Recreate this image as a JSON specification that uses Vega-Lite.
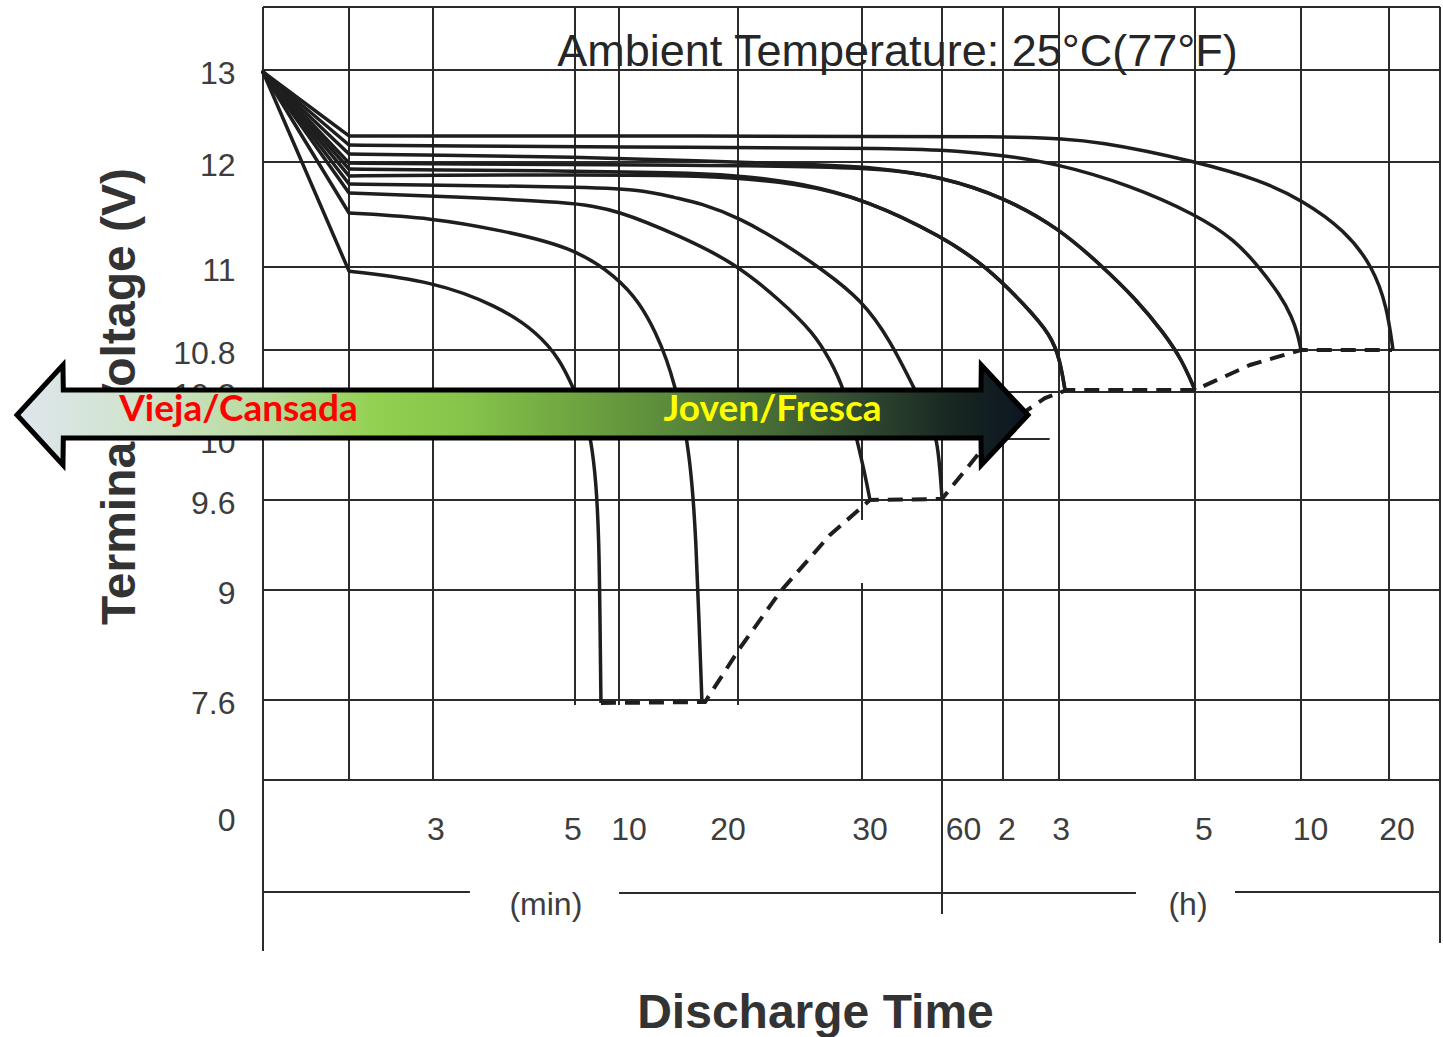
{
  "$schema": "https://vega.github.io/schema/vega-lite/v6.json",
  "width": 1177,
  "height": 944,
  "autosize": "none",
  "padding": {"left": 263, "top": 7, "right": 3, "bottom": 86},
  "background": "white",
  "config": {"view": {"stroke": null}},
  "datasets": {
    "lines": [
      {"t": 0, "t2": 1500, "v": 14, "v2": 14},
      {"t": 0, "t2": 1500, "v": 13, "v2": 13},
      {"t": 0, "t2": 1500, "v": 12, "v2": 12},
      {"t": 0, "t2": 1500, "v": 11, "v2": 11},
      {"t": 0, "t2": 1500, "v": 10.8, "v2": 10.8},
      {"t": 0, "t2": 1500, "v": 10.2, "v2": 10.2},
      {"t": 0, "t2": 170, "v": 10, "v2": 10},
      {"t": 0, "t2": 1500, "v": 9.6, "v2": 9.6},
      {"t": 0, "t2": 1500, "v": 9, "v2": 9},
      {"t": 0, "t2": 1500, "v": 7.6, "v2": 7.6},
      {"t": 0, "t2": 1500, "v": 6, "v2": 6},
      {"t": 0, "t2": 0, "v": 14, "v2": -3},
      {"t": 1, "t2": 1, "v": 14, "v2": 6},
      {"t": 3, "t2": 3, "v": 14, "v2": 6},
      {"t": 5, "t2": 5, "v": 14, "v2": 7.5},
      {"t": 10, "t2": 10, "v": 14, "v2": 7.5},
      {"t": 20, "t2": 20, "v": 14, "v2": 7.5},
      {"t": 30, "t2": 30, "v": 14, "v2": 9.467},
      {"t": 30, "t2": 30, "v": 9.047, "v2": 6},
      {"t": 60, "t2": 60, "v": 14, "v2": -2.172},
      {"t": 120, "t2": 120, "v": 14, "v2": 6},
      {"t": 180, "t2": 180, "v": 14, "v2": 6},
      {"t": 300, "t2": 300, "v": 14, "v2": 6},
      {"t": 600, "t2": 600, "v": 14, "v2": 6},
      {"t": 1200, "t2": 1200, "v": 14, "v2": 6},
      {"t": 1500, "t2": 1500, "v": 14, "v2": -2.821},
      {"t": 0, "t2": 3.52, "v": -1.679, "v2": -1.679},
      {"t": 10, "t2": 247.9, "v": -1.701, "v2": -1.701},
      {"t": 413.2, "t2": 1500, "v": -1.679, "v2": -1.679}
    ],
    "starts": [
      {"c": "C1", "t": 0, "t2": 1, "v": 12.978, "v2": 10.99},
      {"c": "C2", "t": 0, "t2": 1, "v": 12.978, "v2": 11.514},
      {"c": "C3", "t": 0, "t2": 1, "v": 12.978, "v2": 11.705},
      {"c": "C4", "t": 0, "t2": 1, "v": 12.978, "v2": 11.79},
      {"c": "C5", "t": 0, "t2": 1, "v": 12.978, "v2": 11.867},
      {"c": "C5b", "t": 0, "t2": 1, "v": 12.978, "v2": 11.933},
      {"c": "C6", "t": 0, "t2": 1, "v": 12.978, "v2": 11.99},
      {"c": "C6b", "t": 0, "t2": 1, "v": 12.978, "v2": 12.087},
      {"c": "C7", "t": 0, "t2": 1, "v": 12.978, "v2": 12.185},
      {"c": "C8", "t": 0, "t2": 1, "v": 12.978, "v2": 12.283}
    ],
    "curves": [
      {"c": "C1", "t": 1, "v": 10.99}, {"c": "C1", "t": 3, "v": 10.966}, {"c": "C1", "t": 3.92, "v": 10.906}, {"c": "C1", "t": 4.48, "v": 10.841}, {"c": "C1", "t": 4.79, "v": 10.657}, {"c": "C1", "t": 4.97, "v": 10.271}, {"c": "C1", "t": 6.14, "v": 10.102}, {"c": "C1", "t": 6.82, "v": 9.993}, {"c": "C1", "t": 7.39, "v": 9.731}, {"c": "C1", "t": 7.73, "v": 9.333}, {"c": "C1", "t": 7.84, "v": 8.618}, {"c": "C1", "t": 7.95, "v": 7.54},
      {"c": "C2", "t": 1, "v": 11.514}, {"c": "C2", "t": 3, "v": 11.467}, {"c": "C2", "t": 3.94, "v": 11.352}, {"c": "C2", "t": 4.97, "v": 11.19}, {"c": "C2", "t": 9.77, "v": 10.976}, {"c": "C2", "t": 11.76, "v": 10.913}, {"c": "C2", "t": 13.11, "v": 10.841}, {"c": "C2", "t": 14.03, "v": 10.657}, {"c": "C2", "t": 14.71, "v": 10.271}, {"c": "C2", "t": 15.29, "v": 10.102}, {"c": "C2", "t": 15.71, "v": 9.993}, {"c": "C2", "t": 16.13, "v": 9.731}, {"c": "C2", "t": 16.47, "v": 9.333}, {"c": "C2", "t": 16.72, "v": 8.618}, {"c": "C2", "t": 16.97, "v": 7.56},
      {"c": "C3", "t": 1, "v": 11.705}, {"c": "C3", "t": 3, "v": 11.676}, {"c": "C3", "t": 4.97, "v": 11.619}, {"c": "C3", "t": 9.77, "v": 11.543}, {"c": "C3", "t": 15.13, "v": 11.295}, {"c": "C3", "t": 19.75, "v": 11.038}, {"c": "C3", "t": 23.39, "v": 10.92}, {"c": "C3", "t": 26.13, "v": 10.841}, {"c": "C3", "t": 27.42, "v": 10.657}, {"c": "C3", "t": 28.55, "v": 10.257}, {"c": "C3", "t": 29.6, "v": 9.993}, {"c": "C3", "t": 30.75, "v": 9.797}, {"c": "C3", "t": 33, "v": 9.6},
      {"c": "C4", "t": 1, "v": 11.79}, {"c": "C4", "t": 3, "v": 11.781}, {"c": "C4", "t": 4.97, "v": 11.762}, {"c": "C4", "t": 11.76, "v": 11.743}, {"c": "C4", "t": 14.79, "v": 11.657}, {"c": "C4", "t": 16.81, "v": 11.61}, {"c": "C4", "t": 20.16, "v": 11.467}, {"c": "C4", "t": 23.63, "v": 11.229}, {"c": "C4", "t": 26.85, "v": 10.993}, {"c": "C4", "t": 30, "v": 10.92}, {"c": "C4", "t": 40.5, "v": 10.824}, {"c": "C4", "t": 49.5, "v": 10.257}, {"c": "C4", "t": 55.5, "v": 10.081}, {"c": "C4", "t": 58.13, "v": 9.993}, {"c": "C4", "t": 59.25, "v": 9.797}, {"c": "C4", "t": 60, "v": 9.613},
      {"c": "C5", "t": 1, "v": 11.867}, {"c": "C5", "t": 3, "v": 11.876}, {"c": "C5", "t": 5, "v": 11.876}, {"c": "C5", "t": 16.81, "v": 11.876}, {"c": "C5", "t": 25, "v": 11.8}, {"c": "C5", "t": 31.88, "v": 11.638}, {"c": "C5", "t": 60.98, "v": 11.286}, {"c": "C5", "t": 104.3, "v": 11}, {"c": "C5", "t": 143.6, "v": 10.908}, {"c": "C5", "t": 171.4, "v": 10.836}, {"c": "C5", "t": 180.9, "v": 10.657}, {"c": "C5", "t": 185.3, "v": 10.229},
      {"c": "C5b", "t": 1, "v": 11.933}, {"c": "C5b", "t": 3, "v": 11.924}, {"c": "C5b", "t": 5, "v": 11.914}, {"c": "C5b", "t": 16.81, "v": 11.895}, {"c": "C5b", "t": 20.97, "v": 11.857}, {"c": "C5b", "t": 25, "v": 11.8}, {"c": "C5b", "t": 31.88, "v": 11.638}, {"c": "C5b", "t": 60.98, "v": 11.286}, {"c": "C5b", "t": 104.3, "v": 11}, {"c": "C5b", "t": 143.6, "v": 10.908}, {"c": "C5b", "t": 171.4, "v": 10.836}, {"c": "C5b", "t": 180.9, "v": 10.657}, {"c": "C5b", "t": 185.3, "v": 10.229},
      {"c": "C6", "t": 1, "v": 11.99}, {"c": "C6", "t": 3, "v": 11.981}, {"c": "C6", "t": 16.81, "v": 11.971}, {"c": "C6", "t": 34.88, "v": 11.952}, {"c": "C6", "t": 60.98, "v": 11.857}, {"c": "C6", "t": 120, "v": 11.667}, {"c": "C6", "t": 180, "v": 11.371}, {"c": "C6", "t": 218.8, "v": 11}, {"c": "C6", "t": 247.1, "v": 10.925}, {"c": "C6", "t": 272.6, "v": 10.841}, {"c": "C6", "t": 288.5, "v": 10.657}, {"c": "C6", "t": 300, "v": 10.229},
      {"c": "C6b", "t": 1, "v": 12.087}, {"c": "C6b", "t": 3, "v": 12.076}, {"c": "C6b", "t": 5, "v": 12.054}, {"c": "C6b", "t": 16.81, "v": 12.011}, {"c": "C6b", "t": 25, "v": 11.981}, {"c": "C6b", "t": 34.88, "v": 11.952}, {"c": "C6b", "t": 60.98, "v": 11.857}, {"c": "C6b", "t": 120, "v": 11.667}, {"c": "C6b", "t": 180, "v": 11.371}, {"c": "C6b", "t": 218.8, "v": 11}, {"c": "C6b", "t": 247.1, "v": 10.925}, {"c": "C6b", "t": 272.6, "v": 10.841}, {"c": "C6b", "t": 288.5, "v": 10.657}, {"c": "C6b", "t": 300, "v": 10.229},
      {"c": "C7", "t": 1, "v": 12.185}, {"c": "C7", "t": 3, "v": 12.174}, {"c": "C7", "t": 16.81, "v": 12.158}, {"c": "C7", "t": 44.25, "v": 12.152}, {"c": "C7", "t": 77.7, "v": 12.12}, {"c": "C7", "t": 117, "v": 12.076}, {"c": "C7", "t": 175.7, "v": 11.99}, {"c": "C7", "t": 242.6, "v": 11.781}, {"c": "C7", "t": 305.7, "v": 11.495}, {"c": "C7", "t": 413.2, "v": 11.257}, {"c": "C7", "t": 481.1, "v": 11}, {"c": "C7", "t": 540.6, "v": 10.933}, {"c": "C7", "t": 574.5, "v": 10.88}, {"c": "C7", "t": 591.5, "v": 10.836}, {"c": "C7", "t": 600, "v": 10.8},
      {"c": "C8", "t": 1, "v": 12.283}, {"c": "C8", "t": 16.81, "v": 12.283}, {"c": "C8", "t": 151.1, "v": 12.283}, {"c": "C8", "t": 216.2, "v": 12.228}, {"c": "C8", "t": 308.5, "v": 12}, {"c": "C8", "t": 484, "v": 11.829}, {"c": "C8", "t": 606.8, "v": 11.638}, {"c": "C8", "t": 900, "v": 11.352}, {"c": "C8", "t": 1090.9, "v": 11}, {"c": "C8", "t": 1186.4, "v": 10.904}, {"c": "C8", "t": 1223.5, "v": 10.8}
    ],
    "cutoff": [
      {"t": 7.95, "v": 7.54}, {"t": 17.23, "v": 7.56}, {"t": 20.16, "v": 8.262}, {"t": 23.39, "v": 8.975}, {"t": 27.42, "v": 9.367}, {"t": 33, "v": 9.6}, {"t": 60, "v": 9.607}, {"t": 97.4, "v": 9.915}, {"t": 138.2, "v": 10.102}, {"t": 165, "v": 10.174}, {"t": 187.1, "v": 10.229}, {"t": 300, "v": 10.229}, {"t": 455.7, "v": 10.586}, {"t": 600, "v": 10.8}, {"t": 1217.6, "v": 10.8}
    ],
    "arrow": [
      {"t": -2.86, "v": 10.102, "v2": 10.102},
      {"t": -2.326, "v": 10.586, "v2": 9.83},
      {"t": -2.322, "v": 10.229, "v2": 10.004},
      {"t": 98.36, "v": 10.229, "v2": 10.004},
      {"t": 98.66, "v": 10.586, "v2": 9.83},
      {"t": 146.8, "v": 10.102, "v2": 10.102}
    ],
    "arrowText": [
      {"t": -0.285, "v": 10.077, "text": "Vieja/Cansada"},
      {"t": 22.79, "v": 10.077, "text": "Joven/Fresca"}
    ],
    "tickText": [
      {"t": 3.04, "v": -0.515, "text": "3"},
      {"t": 4.97, "v": -0.515, "text": "5"},
      {"t": 10.84, "v": -0.515, "text": "10"},
      {"t": 19.16, "v": -0.515, "text": "20"},
      {"t": 33, "v": -0.515, "text": "30"},
      {"t": 81.2, "v": -0.515, "text": "60"},
      {"t": 124.3, "v": -0.515, "text": "2"},
      {"t": 181.8, "v": -0.515, "text": "3"},
      {"t": 325.5, "v": -0.515, "text": "5"},
      {"t": 665.5, "v": -0.515, "text": "10"},
      {"t": 1247, "v": -0.515, "text": "20"},
      {"t": 4.59, "v": -2.194, "text": "(min)"},
      {"t": 293.8, "v": -2.194, "text": "(h)"}
    ],
    "title": [
      {"t": 43.31, "v": 13.063, "text": "Ambient Temperature: 25°C(77°F)"}
    ]
  },
  "encoding": {
    "x": {
      "field": "t",
      "type": "quantitative",
      "scale": {
        "domain": [0, 1, 3, 5, 10, 20, 30, 60, 120, 180, 300, 600, 1200, 1500],
        "range": [0, 86, 170, 312, 356, 475, 599, 679, 740, 796, 932, 1038, 1126, 1177],
        "nice": false,
        "zero": false
      },
      "axis": {
        "title": "Discharge Time",
        "labels": false,
        "ticks": false,
        "domain": false,
        "grid": false,
        "titleFont": "Liberation Sans",
        "titleFontSize": 48,
        "titleFontWeight": "bold",
        "titleColor": "#333333",
        "titleX": 552,
        "titleY": 76,
        "titleAlign": "center",
        "titleBaseline": "alphabetic"
      }
    },
    "y": {
      "field": "v",
      "type": "quantitative",
      "scale": {
        "domain": [-3, 0, 6, 7.6, 9, 9.6, 10, 10.2, 10.8, 11, 12, 13, 14],
        "range": [944, 810, 773, 693, 583, 493, 432, 385, 343, 260, 155, 63, 0],
        "nice": false,
        "zero": false
      },
      "axis": {
        "title": "Terminal Voltage (V)",
        "values": [13, 12, 11, 10.8, 10.2, 10, 9.6, 9, 7.6, 0],
        "labelExpr": "datum.value == round(datum.value) ? format(datum.value, 'd') : format(datum.value, '.1f')",
        "labelFont": "Liberation Sans",
        "labelFontSize": 32,
        "labelColor": "#3d3d3d",
        "labelPadding": 28,
        "labelOffset": 3,
        "labelOverlap": false,
        "ticks": false,
        "domain": false,
        "grid": false,
        "titleFont": "Liberation Sans",
        "titleFontSize": 48,
        "titleFontWeight": "bold",
        "titleColor": "#333333",
        "titleX": -129,
        "titleY": 389,
        "titleAngle": 270,
        "titleAlign": "center",
        "titleBaseline": "alphabetic"
      }
    }
  },
  "layer": [
    {
      "data": {"name": "lines"},
      "mark": {"type": "rule", "color": "#2b2b2b", "strokeWidth": 2},
      "encoding": {"x2": {"field": "t2"}, "y2": {"field": "v2"}}
    },
    {
      "data": {"name": "starts"},
      "mark": {"type": "rule", "color": "#1e1e1e", "strokeWidth": 3.5, "strokeCap": "round"},
      "encoding": {"x2": {"field": "t2"}, "y2": {"field": "v2"}}
    },
    {
      "data": {"name": "curves"},
      "mark": {"type": "line", "color": "#1e1e1e", "strokeWidth": 3.5, "strokeJoin": "round", "interpolate": "basis"},
      "encoding": {"detail": {"field": "c", "type": "nominal"}}
    },
    {
      "data": {"name": "cutoff"},
      "mark": {"type": "line", "color": "#1e1e1e", "strokeWidth": 4, "strokeDash": [15, 9]},
      "encoding": {}
    },
    {
      "data": {"name": "arrow"},
      "mark": {
        "type": "area",
        "fill": {
          "gradient": "linear",
          "x1": 0, "y1": 0, "x2": 1, "y2": 0,
          "stops": [
            {"offset": 0, "color": "#dfe6ee"},
            {"offset": 0.12, "color": "#cfe3cc"},
            {"offset": 0.25, "color": "#b6db9a"},
            {"offset": 0.35, "color": "#93d152"},
            {"offset": 0.45, "color": "#84c24a"},
            {"offset": 0.55, "color": "#6fa541"},
            {"offset": 0.65, "color": "#5a893b"},
            {"offset": 0.75, "color": "#456a36"},
            {"offset": 0.85, "color": "#2c432f"},
            {"offset": 0.93, "color": "#172520"},
            {"offset": 1, "color": "#0b1522"}
          ]
        },
        "fillOpacity": 1,
        "stroke": "#000000",
        "strokeWidth": 5,
        "strokeJoin": "miter"
      },
      "encoding": {"y2": {"field": "v2"}}
    },
    {
      "data": {"name": "arrowText"},
      "mark": {"type": "text", "font": "Lato", "fontWeight": "bold", "fontSize": 37, "align": "center", "baseline": "alphabetic"},
      "encoding": {
        "text": {"field": "text", "type": "nominal"},
        "color": {"field": "text", "type": "nominal", "scale": {"domain": ["Vieja/Cansada", "Joven/Fresca"], "range": ["#ff0000", "#ffff00"]}, "legend": null}
      }
    },
    {
      "data": {"name": "tickText"},
      "mark": {"type": "text", "font": "Liberation Sans", "fontSize": 32, "color": "#3d3d3d", "align": "center", "baseline": "alphabetic"},
      "encoding": {"text": {"field": "text", "type": "nominal"}}
    },
    {
      "data": {"name": "title"},
      "mark": {"type": "text", "font": "Liberation Sans", "fontSize": 45, "color": "#262626", "align": "center", "baseline": "alphabetic"},
      "encoding": {"text": {"field": "text", "type": "nominal"}}
    }
  ]
}
